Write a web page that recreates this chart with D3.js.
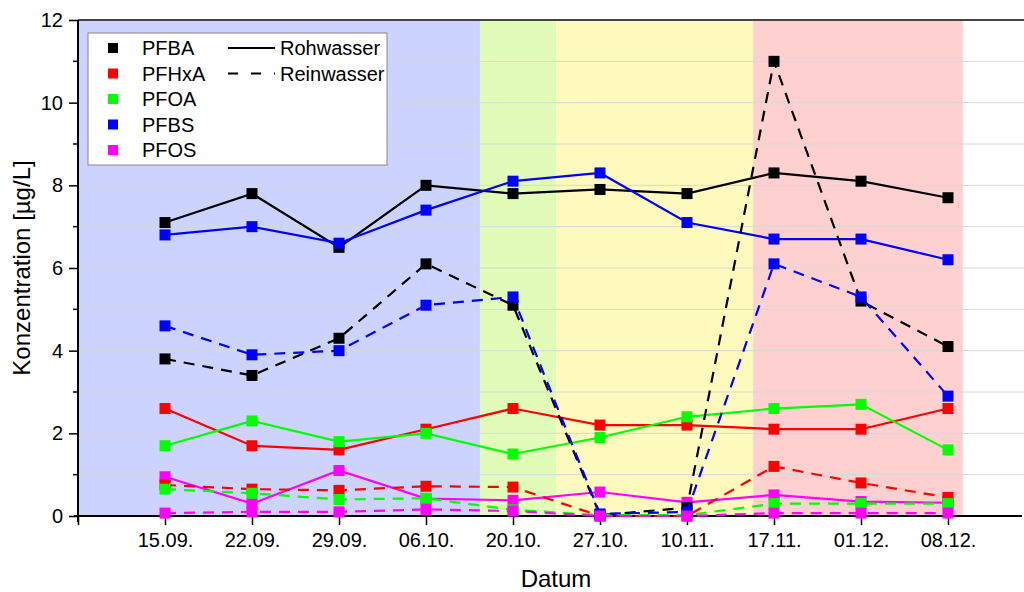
<!DOCTYPE html>
<html>
<head>
<meta charset="utf-8">
<script src="https://cdn.jsdelivr.net/npm/d3@7"></script>
<style>
body{margin:0;background:#fff;}
text{font-family:Arial,"Liberation Sans",sans-serif;}
</style>
</head>
<body>
<svg id="chart" width="1024" height="592"></svg>
<script>
// dates on the x axis (evenly spaced categories)
var dates = ["15.09.","22.09.","29.09.","06.10.","20.10.","27.10.","10.11.","17.11.","01.12.","08.12."];

var substances = ["PFBA","PFHxA","PFOA","PFBS","PFOS"];
var colors = ["#000000","#ff0000","#00ff00","#0000ff","#ff00ff"];

// Rohwasser (solid)
var rohPFBA  = [7.1,7.8,6.5,8.0,7.8,7.9,7.8,8.3,8.1,7.7];
var rohPFHxA = [2.6,1.7,1.6,2.1,2.6,2.2,2.2,2.1,2.1,2.6];
var rohPFOA  = [1.7,2.3,1.8,2.0,1.5,1.9,2.4,2.6,2.7,1.6];
var rohPFBS  = [6.8,7.0,6.6,7.4,8.1,8.3,7.1,6.7,6.7,6.2];
var rohPFOS  = [0.95,0.3,1.1,0.42,0.38,0.58,0.33,0.51,0.35,0.32];

// Reinwasser (dashed)
var reinPFBA  = [3.8,3.4,4.3,6.1,5.1,0.02,0.2,11.0,5.2,4.1];
var reinPFHxA = [0.75,0.65,0.62,0.72,0.7,0.0,0.0,1.2,0.8,0.45];
var reinPFOA  = [0.65,0.55,0.4,0.43,0.15,0.02,0.02,0.3,0.3,0.3];
var reinPFBS  = [4.6,3.9,4.0,5.1,5.3,0.05,0.1,6.1,5.3,2.9];
var reinPFOS  = [0.07,0.1,0.1,0.16,0.12,0.0,0.0,0.07,0.07,0.07];

// background periods, in category-index units (1 = 15.09.)
var bandStart = [0, 4.62, 5.5, 7.76];
var bandEnd   = [4.62, 5.5, 7.76, 10.17];
var bandColor = ["#ccd3fe","#e1fbb9","#fef9bd","#ffd0d0"];

var yTicks = [0,2,4,6,8,10,12];

var roh  = [rohPFBA, rohPFHxA, rohPFOA, rohPFBS, rohPFOS];
var rein = [reinPFBA, reinPFHxA, reinPFOA, reinPFBS, reinPFOS];

var svg = d3.select("#chart");
var pL = 78, pR = 1024, pT = 20, pB = 516;
var ms = 11; // marker size

var x = d3.scaleLinear().domain([0, (pR-pL)/87]).range([pL, pR]);
var y = d3.scaleLinear().domain([0,12]).range([pB, pT]);

// bands
svg.selectAll("rect.band")
    .data(bandStart)
  .enter().append("rect")
    .attr("class","band")
    .attr("x", function(d){ return x(d); })
    .attr("y", pT)
    .attr("width", function(d,i){ return x(bandEnd[i]) - x(d); })
    .attr("height", pB - pT)
    .attr("fill", function(d,i){ return bandColor[i]; });

// grid every 1 unit
svg.selectAll("line.grid")
    .data(d3.range(1,13))
  .enter().append("line")
    .attr("x1", pL).attr("x2", pR)
    .attr("y1", function(d){ return y(d); })
    .attr("y2", function(d){ return y(d); })
    .attr("stroke","#d8d8d8").attr("stroke-width",1);

// top frame line
svg.append("line")
    .attr("x1", pL).attr("x2", pR)
    .attr("y1", pT).attr("y2", pT)
    .attr("stroke","#444").attr("stroke-width",2);

// axes
var yAxis = d3.axisLeft(y).tickValues(yTicks).tickSize(9).tickPadding(6).tickFormat(d3.format("d"));
var gy = svg.append("g").attr("transform","translate("+pL+",0)").call(yAxis);
gy.select(".domain").remove();
gy.selectAll("text").style("font-size","20px").attr("fill","#000");
gy.selectAll("line").attr("stroke-width",1.5);
svg.selectAll("line.minor")
    .data(d3.range(1,12,2))
  .enter().append("line")
    .attr("x1", pL-5).attr("x2", pL)
    .attr("y1", function(d){ return y(d); })
    .attr("y2", function(d){ return y(d); })
    .attr("stroke","#000").attr("stroke-width",1.5);
svg.append("line").attr("x1",pL).attr("x2",pL).attr("y1",pT).attr("y2",pB+6)
    .attr("stroke","#000").attr("stroke-width",2);

var xAxis = d3.axisBottom(x).tickValues(d3.range(0,11)).tickSize(9).tickPadding(8)
    .tickFormat(function(d){ return d==0 ? "" : dates[d-1]; });
var gx = svg.append("g").attr("transform","translate(0,"+pB+")").call(xAxis);
gx.select(".domain").remove();
gx.selectAll("text").style("font-size","20px").attr("fill","#000");
gx.selectAll("line").attr("stroke-width",1.5);
svg.append("line").attr("x1",pL-4).attr("x2",pR-2).attr("y1",pB).attr("y2",pB)
    .attr("stroke","#000").attr("stroke-width",2);

// titles
svg.append("text").attr("x",556).attr("y",587).attr("text-anchor","middle")
    .style("font-size","24px").text("Datum");
svg.append("text").attr("transform","translate(30,268) rotate(-90)").attr("text-anchor","middle")
    .style("font-size","24px").text("Konzentration [µg/L]");

// series
var line = d3.line()
    .x(function(d,i){ return x(i+1); })
    .y(function(d){ return y(d); });

function drawSeries(vals, col, dashed){
    var g = svg.append("g");
    g.append("path")
        .attr("d", line(vals))
        .attr("fill","none")
        .attr("stroke", col)
        .attr("stroke-width", 2.2)
        .attr("stroke-dasharray", dashed ? "11,8" : null);
    g.selectAll("rect")
        .data(vals)
      .enter().append("rect")
        .attr("x", function(d,i){ return x(i+1)-ms/2; })
        .attr("y", function(d){ return y(d)-ms/2; })
        .attr("width",ms).attr("height",ms)
        .attr("fill", col);
}
roh.forEach(function(s,i){ drawSeries(s, colors[i], false); });
rein.forEach(function(s,i){ drawSeries(s, colors[i], true); });

// legend
var lg = svg.append("g");
lg.append("rect").attr("x",88).attr("y",33).attr("width",299).attr("height",132)
    .attr("fill","#fff").attr("stroke","#888").attr("stroke-width",1);
var rows = lg.selectAll("g.row")
    .data(substances)
  .enter().append("g")
    .attr("transform", function(d,i){ return "translate(0,"+(48+i*25.5)+")"; });
rows.append("rect").attr("x",108).attr("y",-5).attr("width",10).attr("height",10)
    .attr("fill", function(d,i){ return colors[i]; });
rows.append("text").attr("x",142).attr("y",7).style("font-size","20px").text(function(d){ return d; });

var lineLabels = ["Rohwasser","Reinwasser"];
var lrows = lg.selectAll("g.lrow")
    .data(lineLabels)
  .enter().append("g")
    .attr("transform", function(d,i){ return "translate(0,"+(48+i*25.5)+")"; });
lrows.append("line").attr("x1",228).attr("x2",275).attr("y1",0).attr("y2",0)
    .attr("stroke","#000").attr("stroke-width",2)
    .attr("stroke-dasharray", function(d,i){ return i ? "10,13" : null; });
lrows.append("text").attr("x",280).attr("y",7).style("font-size","20px").text(function(d){ return d; });
</script>
</body>
</html>
